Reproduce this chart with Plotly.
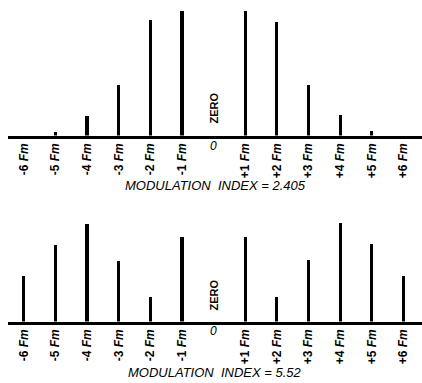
import plotly.graph_objects as go

orders = [-6, -5, -4, -3, -2, -1, 0, 1, 2, 3, 4, 5, 6]
tick_labels = ["-6 Fm", "-5 Fm", "-4 Fm", "-3 Fm", "-2 Fm", "-1 Fm", "",
               "+1 Fm", "+2 Fm", "+3 Fm", "+4 Fm", "+5 Fm", "+6 Fm"]
amp_2405 = [0.0, 0.03, 0.155, 0.405, 0.928, 1.0, 0.0, 1.0, 0.915, 0.41, 0.163, 0.04, 0.0]
amp_552 = [0.368, 0.617, 0.786, 0.488, 0.201, 0.676, 0.0, 0.676, 0.196, 0.496, 0.794, 0.625, 0.368]
titles = ["MODULATION  INDEX = 2.405", "MODULATION  INDEX = 5.52"]

W, H = 422, 383
px_per_unit = 124.3
top_dom = [1 - 135.5 / H, 1 - 5 / H]
bot_dom = [1 - 321.5 / H, 0.48]

def yrange(dom):
    return [0, (dom[1] - dom[0]) * H / px_per_unit]

fig = go.Figure()
fig.add_trace(go.Bar(x=orders, y=amp_2405, width=0.1, marker=dict(color="black", line=dict(width=0)),
                     xaxis="x", yaxis="y", showlegend=False, hoverinfo="skip"))
fig.add_trace(go.Bar(x=orders, y=amp_552, width=0.1, marker=dict(color="black", line=dict(width=0)),
                     xaxis="x2", yaxis="y2", showlegend=False, hoverinfo="skip"))

tt = ["<b>" + t.replace("Fm", "<i>Fm</i>") + "</b>" if t else "" for t in tick_labels]
xcommon = dict(range=[-6.496, 6.585], tickvals=orders, ticktext=tt, tickangle=-90,
               showgrid=False, zeroline=False, ticks="", showline=True, linewidth=3,
               linecolor="black", tickfont=dict(family="Liberation Sans", size=12, color="black"),
               fixedrange=True, automargin=False)
fig.update_layout(
    width=W, height=H,
    margin=dict(l=8, r=0, t=0, b=0),
    paper_bgcolor="white", plot_bgcolor="white",
    bargap=0,
    xaxis=dict(domain=[0, 1], anchor="y", **xcommon),
    yaxis=dict(domain=top_dom, range=yrange(top_dom), visible=False, anchor="x", automargin=False),
    xaxis2=dict(domain=[0, 1], anchor="y2", **xcommon),
    yaxis2=dict(domain=bot_dom, range=yrange(bot_dom), visible=False, anchor="x2", automargin=False),
)

for xr, zero_y, o_y, title_y, title in [("x", 108, 146, 185, titles[0]),
                                        ("x2", 295, 331, 372, titles[1])]:
    fig.add_annotation(x=0, xref=xr, y=1 - zero_y / H, yref="paper", text="<b>ZERO</b>",
                       textangle=-90, showarrow=False, xanchor="center", yanchor="middle",
                       font=dict(family="Liberation Sans", size=11, color="black"))
    fig.add_annotation(x=0, xref=xr, y=1 - o_y / H, yref="paper", text="<i>0</i>",
                       showarrow=False, xanchor="center", yanchor="middle",
                       font=dict(family="Liberation Sans", size=12, color="black"))
    fig.add_annotation(x=0.05, xref=xr, y=1 - title_y / H, yref="paper", text="<i>" + title + "</i>",
                       showarrow=False, xanchor="center", yanchor="middle",
                       font=dict(family="Liberation Sans", size=13, color="black"))

fig.write_html("out.html", config={"displayModeBar": False, "staticPlot": True},
               post_script="document.body.style.margin='0';document.body.style.overflow='hidden';")
